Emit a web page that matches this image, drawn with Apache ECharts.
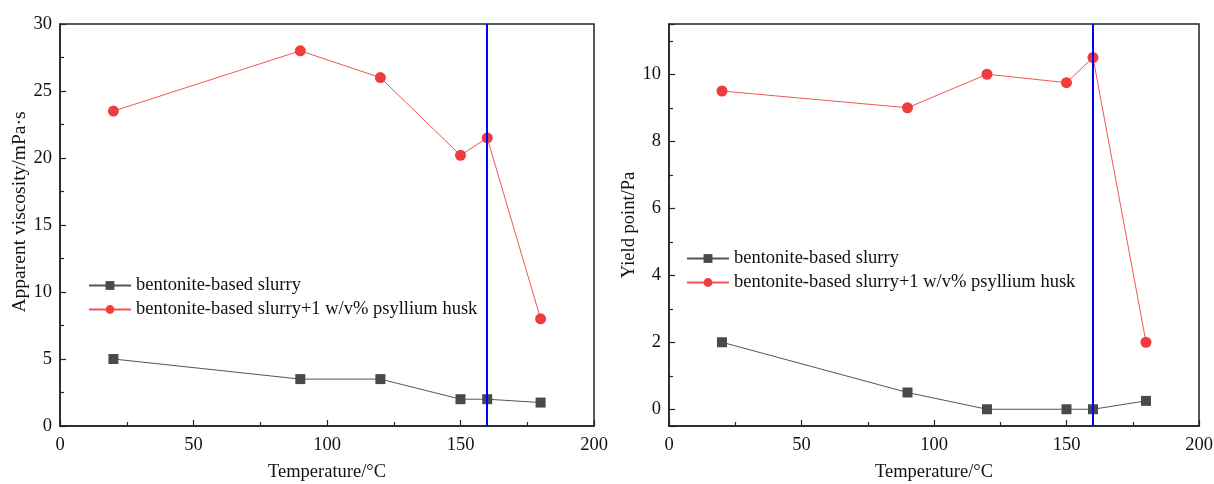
<!DOCTYPE html>
<html>
<head>
<meta charset="utf-8">
<script src="https://cdn.jsdelivr.net/npm/echarts@6/dist/echarts.min.js"></script>
<style>
  html, body { margin: 0; padding: 0; background: #fff; }
  #chart { width: 1214px; height: 484px; }
</style>
</head>
<body>
<div id="chart"></div>
<script>
// temperatures (°C)
const temps = [20, 90, 120, 150, 160, 180];
// apparent viscosity, mPa·s
const avBase = [5, 3.5, 3.5, 2, 2, 1.75];
const avHusk = [23.5, 28, 26, 20.2, 21.5, 8];
// yield point, Pa
const ypBase = [2, 0.5, 0, 0, 0, 0.25];
const ypHusk = [9.5, 9, 10, 9.75, 10.5, 2];
const markTemp = 160;

const nameBase = 'bentonite-based slurry';
const nameHusk = 'bentonite-based slurry+1 w/v% psyllium husk';

const font = 'Liberation Serif';
const txt = { fontFamily: font, fontSize: 18.5, color: '#111' };

function pairs(xs, ys) {
  return xs.map((x, i) => [x, ys[i]]);
}

const tickStyle = { color: '#222', width: 1.2 };

function xAxisFor(idx) {
  return {
    gridIndex: idx,
    type: 'value',
    min: 0, max: 200, interval: 50,
    name: 'Temperature/°C',
    nameLocation: 'middle',
    nameGap: 37,
    nameTextStyle: txt,
    axisLine: { show: true, onZero: false, lineStyle: { color: '#222', width: 1.5 } },
    axisTick: { show: true, inside: true, length: 6, lineStyle: tickStyle },
    minorTick: { show: true, splitNumber: 2, length: 4, lineStyle: tickStyle },
    axisLabel: { ...txt, margin: 10 },
    splitLine: { show: false }
  };
}

function lineSeries(name, data, idx, color, symbol, size, lineColor) {
  return {
    name: name,
    type: 'line',
    xAxisIndex: idx,
    yAxisIndex: idx,
    data: data,
    symbol: symbol,
    symbolSize: size,
    z: 3,
    lineStyle: { color: lineColor, width: 1 },
    itemStyle: { color: color },
    emphasis: { disabled: true }
  };
}

function blueLine(idx) {
  return {
    type: 'line',
    xAxisIndex: idx,
    yAxisIndex: idx,
    data: [],
    z: 1,
    markLine: {
      silent: true,
      symbol: 'none',
      label: { show: false },
      lineStyle: { color: '#0000ff', type: 'solid', width: 2 },
      data: [{ xAxis: markTemp }]
    }
  };
}

function yAxisFor(idx, extra) {
  return Object.assign({
    gridIndex: idx,
    type: 'value',
    nameLocation: 'middle',
    nameGap: 30,
    nameTextStyle: txt,
    axisLine: { show: true, onZero: false, lineStyle: { color: '#222', width: 1.5 } },
    axisTick: { show: true, inside: true, length: 6, lineStyle: tickStyle },
    minorTick: { show: true, splitNumber: 2, length: 4, lineStyle: tickStyle },
    axisLabel: { ...txt, margin: 8 },
    splitLine: { show: false }
  }, extra);
}

function legendAt(left, top) {
  return {
    left: left, top: top, orient: 'vertical', itemGap: 5,
    itemWidth: 42, itemHeight: 11,
    textStyle: txt,
    data: [nameBase, nameHusk]
  };
}

const chart = echarts.init(document.getElementById('chart'));

const option = {
  backgroundColor: '#fff',
  animation: false,
  grid: [
    { left: 60, top: 24, width: 534, height: 402, outerBoundsMode: 'none',
      show: true, borderColor: '#222', borderWidth: 1.5 },
    { left: 669, top: 24, width: 530, height: 402, outerBoundsMode: 'none',
      show: true, borderColor: '#222', borderWidth: 1.5 }
  ],
  legend: [legendAt(83, 271), legendAt(681, 244)],
  xAxis: [xAxisFor(0), xAxisFor(1)],
  yAxis: [
    yAxisFor(0, {
      min: 0, max: 30, interval: 5, name: 'Apparent viscosity/mPa·s',
      nameTextStyle: { ...txt, fontSize: 19.5, padding: [0, 0, 0, 26] }
    }),
    yAxisFor(1, {
      min: -0.5, max: 11.5, splitNumber: 6, name: 'Yield point/Pa',
      axisLabel: { ...txt, margin: 8, showMinLabel: false, showMaxLabel: false }
    })
  ],
  series: [
    blueLine(0),
    lineSeries(nameBase, pairs(temps, avBase), 0, '#4a4a4a', 'rect', 10, '#555'),
    lineSeries(nameHusk, pairs(temps, avHusk), 0, '#f03c3c', 'circle', 11, '#f25555'),
    blueLine(1),
    lineSeries(nameBase, pairs(temps, ypBase), 1, '#4a4a4a', 'rect', 10, '#555'),
    lineSeries(nameHusk, pairs(temps, ypHusk), 1, '#f03c3c', 'circle', 11, '#f25555')
  ]
};

chart.setOption(option);
window.addEventListener('resize', () => chart.resize());
</script>
</body>
</html>
